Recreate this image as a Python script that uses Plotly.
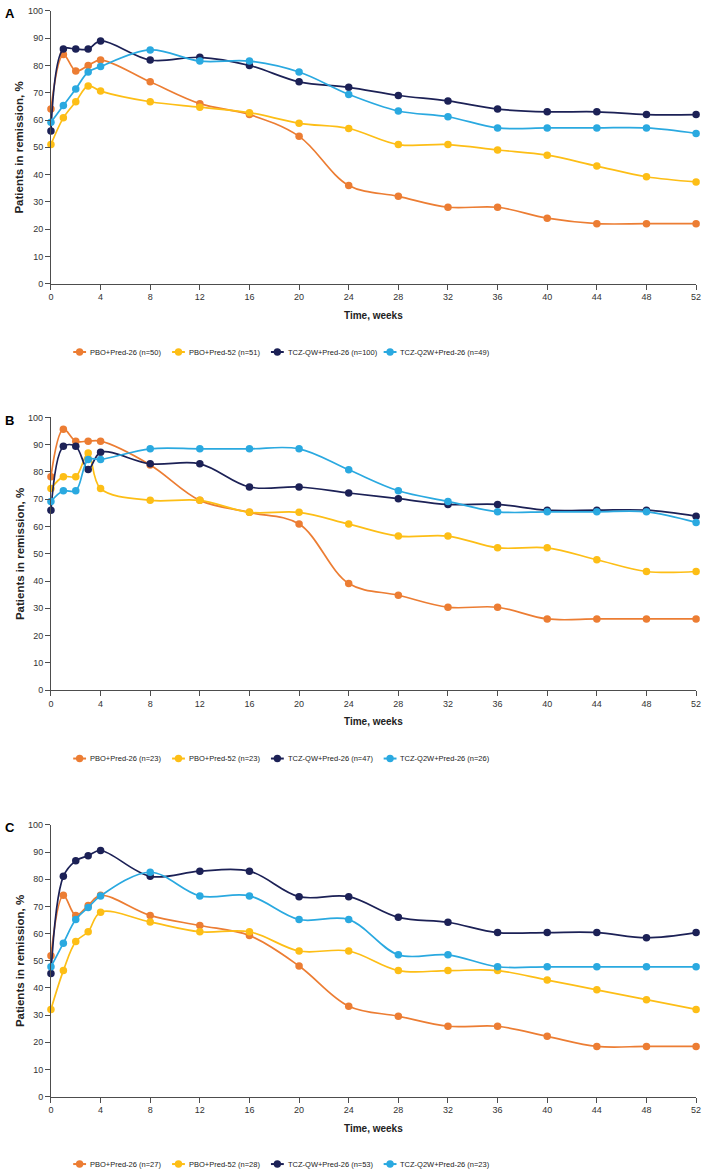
import plotly.graph_objects as go

weeks = [0, 1, 2, 3, 4, 8, 12, 16, 20, 24, 28, 32, 36, 40, 44, 48, 52]
x_ticks = [0, 4, 8, 12, 16, 20, 24, 28, 32, 36, 40, 44, 48, 52]
y_ticks = [0, 10, 20, 30, 40, 50, 60, 70, 80, 90, 100]

# Panel A
pbo26_A = [64, 84, 78, 80, 82, 74, 66, 62, 54, 36, 32, 28, 28, 24, 22, 22, 22]
pbo52_A = [51.0, 60.8, 66.7, 72.5, 70.6, 66.7, 64.7, 62.7, 58.8, 56.9, 51.0, 51.0, 49.0, 47.1, 43.1, 39.2, 37.3]
qw_A = [56, 86, 86, 86, 89, 82, 83, 80, 74, 72, 69, 67, 64, 63, 63, 62, 62]
q2w_A = [59.2, 65.3, 71.4, 77.6, 79.6, 85.7, 81.6, 81.6, 77.6, 69.4, 63.3, 61.2, 57.1, 57.1, 57.1, 57.1, 55.1]
names_A = ["PBO+Pred-26 (n=50)", "PBO+Pred-52 (n=51)", "TCZ-QW+Pred-26 (n=100)", "TCZ-Q2W+Pred-26 (n=49)"]

# Panel B
pbo26_B = [78.3, 95.7, 91.3, 91.3, 91.3, 82.6, 69.6, 65.2, 60.9, 39.1, 34.8, 30.4, 30.4, 26.1, 26.1, 26.1, 26.1]
pbo52_B = [73.9, 78.3, 78.3, 87.0, 73.9, 69.6, 69.6, 65.2, 65.2, 60.9, 56.5, 56.5, 52.2, 52.2, 47.8, 43.5, 43.5]
qw_B = [66.0, 89.4, 89.4, 80.9, 87.2, 83.0, 83.0, 74.5, 74.5, 72.3, 70.2, 68.1, 68.1, 66.0, 66.0, 66.0, 63.8]
q2w_B = [69.2, 73.1, 73.1, 84.6, 84.6, 88.5, 88.5, 88.5, 88.5, 80.8, 73.1, 69.2, 65.4, 65.4, 65.4, 65.4, 61.5]
names_B = ["PBO+Pred-26 (n=23)", "PBO+Pred-52 (n=23)", "TCZ-QW+Pred-26 (n=47)", "TCZ-Q2W+Pred-26 (n=26)"]

# Panel C
pbo26_C = [51.9, 74.1, 66.7, 70.4, 74.1, 66.7, 63.0, 59.3, 48.1, 33.3, 29.6, 25.9, 25.9, 22.2, 18.5, 18.5, 18.5]
pbo52_C = [32.1, 46.4, 57.1, 60.7, 67.9, 64.3, 60.7, 60.7, 53.6, 53.6, 46.4, 46.4, 46.4, 42.9, 39.3, 35.7, 32.1]
qw_C = [45.3, 81.1, 86.8, 88.7, 90.6, 81.1, 83.0, 83.0, 73.6, 73.6, 66.0, 64.2, 60.4, 60.4, 60.4, 58.5, 60.4]
q2w_C = [47.8, 56.5, 65.2, 69.6, 73.9, 82.6, 73.9, 73.9, 65.2, 65.2, 52.2, 52.2, 47.8, 47.8, 47.8, 47.8, 47.8]
names_C = ["PBO+Pred-26 (n=27)", "PBO+Pred-52 (n=28)", "TCZ-QW+Pred-26 (n=53)", "TCZ-Q2W+Pred-26 (n=23)"]

panel_labels = ["A", "B", "C"]
x_title = "Time, weeks"
y_title = "Patients in remission, %"

colors = ["#EC7D33", "#FDBE16", "#1C2156", "#2AA9E0"]

W, H = 709, 1176
SANS = "Liberation Sans, Arial, Helvetica, sans-serif"
AX = "#4d4d4d"

panels = [
    ([pbo26_A, pbo52_A, qw_A, q2w_A], names_A),
    ([pbo26_B, pbo52_B, qw_B, q2w_B], names_B),
    ([pbo26_C, pbo52_C, qw_C, q2w_C], names_C),
]

# layout geometry in pixels
plot_px = [(6, 281), (416, 691), (827, 1101)]
x0_px, x1_px = 48.5, 701
legend_y_px = [350, 760, 1169]
legend_x_px = [71, 171, 271, 385]


def px(p):
    return p / W


def py(p):
    return 1 - p / H


fig = go.Figure()
layout = dict(
    autosize=True, margin=dict(l=0, r=0, t=0, b=0),
    paper_bgcolor="white", plot_bgcolor="white", showlegend=False,
    annotations=[], shapes=[],
)

for i, (series, names) in enumerate(panels):
    k = "" if i == 0 else str(i + 1)
    for s, nm, c in zip(series, names, colors):
        fig.add_trace(go.Scatter(
            x=weeks, y=s, name=nm, mode="lines+markers",
            line=dict(color=c, width=1.7, shape="spline", smoothing=1.0),
            marker=dict(color=c, size=7.5),
            xaxis="x" + k, yaxis="y" + k, cliponaxis=False,
        ))
    top, bot = plot_px[i]
    layout["xaxis" + k] = dict(
        domain=[px(x0_px), px(x1_px)], anchor="y" + k, range=[0, 52],
        tickvals=x_ticks, ticks="outside", ticklen=5, tickcolor=AX,
        showline=True, linecolor=AX, linewidth=1, showgrid=False, zeroline=False,
        tickfont=dict(family=SANS, size=9, color="#333"),
        ticklabeloverflow="allow",
    )
    layout["yaxis" + k] = dict(
        domain=[py(bot), py(top)], anchor="x" + k, range=[0, 100],
        tickvals=y_ticks, ticks="outside", ticklen=5, tickcolor=AX,
        showline=True, linecolor=AX, linewidth=1, showgrid=False, zeroline=False,
        tickfont=dict(family=SANS, size=9, color="#333"),
    )
    layout["annotations"] += [
        dict(text=f"<b>{panel_labels[i]}</b>", xref="paper", yref="paper",
             x=px(0), y=py(top + 3), xanchor="left", yanchor="middle", showarrow=False,
             font=dict(family=SANS, size=13, color="black")),
        dict(text=f"<b>{x_title}</b>", xref="paper", yref="paper",
             x=px((x0_px + x1_px) / 2), y=py(bot + 32), xanchor="center", yanchor="middle",
             showarrow=False, font=dict(family=SANS, size=10, color="#222")),
        dict(text=f"<b>{y_title}</b>", xref="paper", yref="paper", textangle=-90,
             x=px(16.5), y=py((top + bot) / 2), xanchor="center", yanchor="middle",
             showarrow=False, font=dict(family=SANS, size=11.5, color="#222")),
    ]
    # legend row for this panel
    ly = py(legend_y_px[i])
    for lx, nm, c in zip(legend_x_px, names, colors):
        layout["shapes"].append(dict(
            type="line", xref="paper", yref="paper", x0=px(lx), x1=px(lx + 13), y0=ly, y1=ly,
            line=dict(color=c, width=2)))
        layout["shapes"].append(dict(
            type="circle", xref="paper", yref="paper", xsizemode="pixel", ysizemode="pixel",
            xanchor=px(lx + 6.5), yanchor=ly, x0=-3.7, x1=3.7, y0=-3.7, y1=3.7,
            fillcolor=c, line=dict(width=0)))
        layout["annotations"].append(dict(
            text=nm, xref="paper", yref="paper", x=px(lx + 15), y=ly,
            xanchor="left", yanchor="middle", showarrow=False,
            font=dict(family=SANS, size=7.5, color="#222")))

fig.update_layout(**layout)
fig.write_html(
    "out.html",
    config={"displayModeBar": False, "responsive": True},
    default_width="100vw", default_height="100vh",
    post_script=(
        "document.documentElement.style.margin='0';document.body.style.margin='0';"
        "document.body.style.padding='0';document.documentElement.style.overflow='hidden';"
        "document.body.style.overflow='hidden';"
        "var gd=document.getElementById('{plot_id}');"
        "gd.style.width=window.innerWidth+'px';gd.style.height=window.innerHeight+'px';"
        "Plotly.Plots.resize(gd);"
    ),
)
